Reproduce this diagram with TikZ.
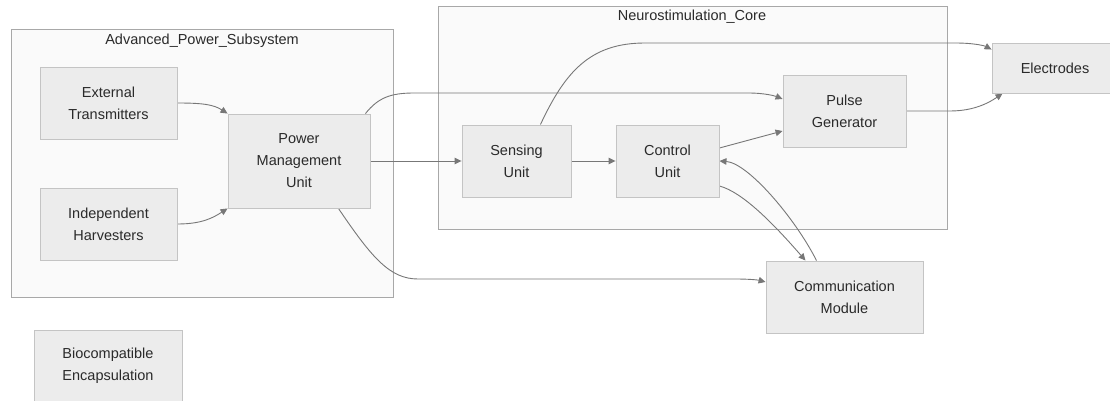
\documentclass[tikz,border=0pt]{standalone}
\usepackage{fontspec}
\setmainfont{Liberation Sans}
\usetikzlibrary{arrows.meta}
\pgfdeclarelayer{bg}
\pgfdeclarelayer{edges}
\pgfsetlayers{bg,edges,main}
\definecolor{nodefill}{HTML}{ECECEC}
\definecolor{nodeline}{HTML}{C4C4C4}
\definecolor{clfill}{HTML}{FAFAFA}
\definecolor{clline}{HTML}{A8A8A8}
\definecolor{edgecol}{HTML}{777777}
\definecolor{txt}{HTML}{2A2A2A}
\tikzset{
  box/.style={draw=nodeline, fill=nodefill, line width=0.9pt, text=txt, align=center,
    inner sep=0pt, font=\fontsize{14.5}{22}\selectfont},
  cluster/.style={draw=clline, fill=clfill, line width=0.9pt},
  cltitle/.style={text=txt, font=\fontsize{14.5}{18}\selectfont, inner sep=0pt},
  edge/.style={draw=edgecol, line width=0.9pt, -{Triangle[length=7pt,width=6.5pt]}}
}
\begin{document}
\begin{tikzpicture}[x=1pt,y=-1pt]
\useasboundingbox (0,0) rectangle (1110,401);
% nodes
\node[box, minimum width=137pt, minimum height=72pt] (ET) at (108.5,103) {External\\Transmitters};
\node[box, minimum width=137pt, minimum height=72pt] (IH) at (108.5,224) {Independent\\Harvesters};
\node[box, minimum width=142pt, minimum height=94pt] (PMU) at (299,161) {Power\\Management\\Unit};
\node[box, minimum width=109pt, minimum height=72pt] (SU) at (516.5,161) {Sensing\\Unit};
\node[box, minimum width=103pt, minimum height=72pt] (CU) at (667.5,161) {Control\\Unit};
\node[box, minimum width=123pt, minimum height=72pt] (PG) at (844.5,111) {Pulse\\Generator};
\node[box, minimum width=126pt, minimum height=50pt] (EL) at (1055,68) {Electrodes};
\node[box, minimum width=157pt, minimum height=72pt] (CM) at (844.5,297) {Communication\\Module};
\node[box, minimum width=148pt, minimum height=72pt] (BE) at (108,366) {Biocompatible\\Encapsulation};
% clusters
\begin{pgfonlayer}{bg}
\draw[cluster] (11,29) rectangle (393,297);
\draw[cluster] (438,6) rectangle (947,229);
\end{pgfonlayer}
\node[cltitle] (apsT) at (202,41) {Advanced\_Power\_Subsystem};
\node[cltitle] (ncT) at (692,17) {Neurostimulation\_Core};
% edges
\begin{pgfonlayer}{edges}
\draw[edge] (ET.east) .. controls +(25,0) and +(-14,-9) .. (PMU.north west);
\draw[edge] (IH.east) .. controls +(25,0) and +(-14,9) .. (PMU.south west);
\draw[edge] (PMU.east) -- (SU.west);
\draw[edge] ([xshift=-5pt]PMU.north east) .. controls (378,98) and (390,93) .. (414,93) -- (748,93) .. controls (765,93) and (775,96) .. ([yshift=12pt]PG.west);
\draw[edge] ([xshift=-32pt]PMU.south east) .. controls (372,258) and (390,279) .. (418,279) -- (735,279) .. controls (750,279) and (758,280) .. ([yshift=15pt]CM.west);
\draw[edge] (SU.east) -- (CU.west);
\draw[edge] ([xshift=-31pt]SU.north east) .. controls (565,72) and (590,43) .. (645,43) -- (955,43) .. controls (975,43) and (985,46) .. ([yshift=-7pt]EL.north west);
\draw[edge] ([yshift=13pt]CU.east) -- ([yshift=-20pt]PG.west);
\draw[edge] ([yshift=-25pt]CU.east) .. controls (742,192) and (772,222) .. ([xshift=-39pt]CM.north);
\draw[edge] ([xshift=-28pt]CM.north) .. controls (795,218) and (748,163) .. (CU.east);
\draw[edge] (PG.east) -- (950,111) .. controls (975,111) and (990,102) .. ([xshift=11pt]EL.south west);
\end{pgfonlayer}
\end{tikzpicture}
\end{document}
